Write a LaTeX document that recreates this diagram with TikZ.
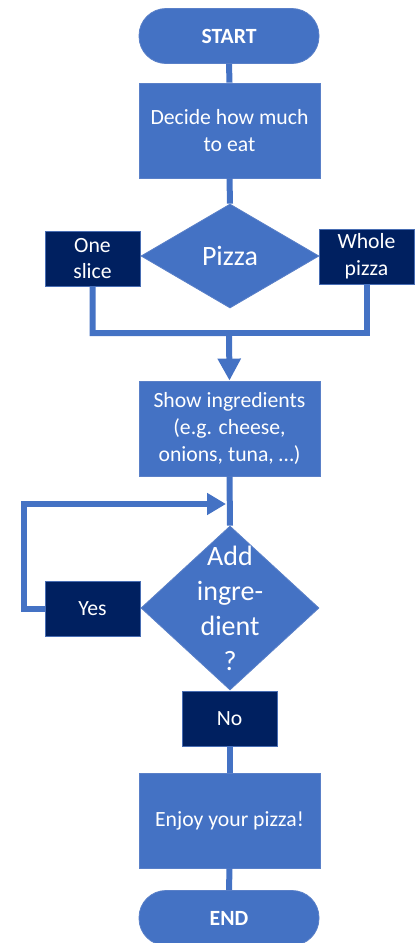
\documentclass[tikz,border=0pt]{standalone}
\usepackage{fontspec}
\setmainfont{Carlito}
\usetikzlibrary{shapes.geometric,arrows.meta}
\definecolor{fcblue}{HTML}{4472C4}
\definecolor{fcnavy}{HTML}{002060}
\definecolor{fcedge}{HTML}{5A80C8}
\begin{document}
\begin{tikzpicture}[x=1pt,y=-1pt,
  txt/.style={text=white,font=\fontsize{21.7}{26.7}\selectfont,align=center,inner sep=0pt},
  procbox/.style={txt,rectangle,fill=fcblue,draw=fcedge,line width=0.8pt,minimum width=181pt,minimum height=95pt},
  termbox/.style={txt,rectangle,rounded corners=27pt,fill=fcblue,draw=fcedge,line width=0.8pt,minimum width=180pt,minimum height=55pt,font=\fontsize{21.7}{26.7}\selectfont\bfseries},
  navybox/.style={txt,rectangle,fill=fcnavy,draw=fcedge!80!fcnavy,line width=0.8pt,minimum width=95pt,minimum height=55pt},
  decbox/.style={diamond,fill=fcblue,draw=fcedge,line width=0.8pt,inner sep=0pt,minimum width=178pt},
  conn/.style={draw=fcblue,line width=6pt},
  bigarr/.style={-{Triangle[length=22pt,width=22pt]}},
  smallarr/.style={-{Triangle[length=19pt,width=21pt]}}
]
\useasboundingbox (0,0) rectangle (418,943);
\coordinate (j) at (229,333);
\coordinate (lp) at (24,504);
\coordinate (loopend) at (226,504);

\node[termbox] (start) at (229,36) {START};
\node[procbox] (decide) at (229.5,130.5) {Decide how much\\to eat};
\node[decbox,minimum height=104pt,
  label={[txt,font=\fontsize{28}{35}\selectfont]center:Pizza}] (pizza) at (230,256) {};
\node[navybox] (one) at (92.5,258.5) {One\\slice};
\node[navybox] (whole) at (366.5,256.5) {Whole\\pizza};
\node[procbox] (show) at (229.5,428.5) {Show ingredients\\(e.g. cheese,\\onions, tuna, \dots)};
\node[decbox,minimum height=164pt,
  label={[txt,font=\fontsize{28}{35}\selectfont]center:Add\\ingre-\\dient\\?}] (add) at (230,608) {};
\node[navybox] (yes) at (92.5,608.5) {Yes};
\node[navybox] (no) at (229.5,718.5) {No};
\node[procbox] (enjoy) at (229.5,820.5) {Enjoy your pizza!};
\node[termbox] (end) at (229,918) {END};

\draw[conn] (start.south) -- (decide.north);
\draw[conn] (decide.south) -- (pizza.north);
\draw[conn,bigarr] (one.south) |- (j) -- (show.north);
\draw[conn] (whole.south) |- (j);
\draw[conn] (show.south) -- (add.north);
\draw[conn,smallarr] (yes.west) -| (lp) -- (loopend);
\draw[conn] (no.south) -- (enjoy.north);
\draw[conn] (enjoy.south) -- (end.north);
\end{tikzpicture}
\end{document}
